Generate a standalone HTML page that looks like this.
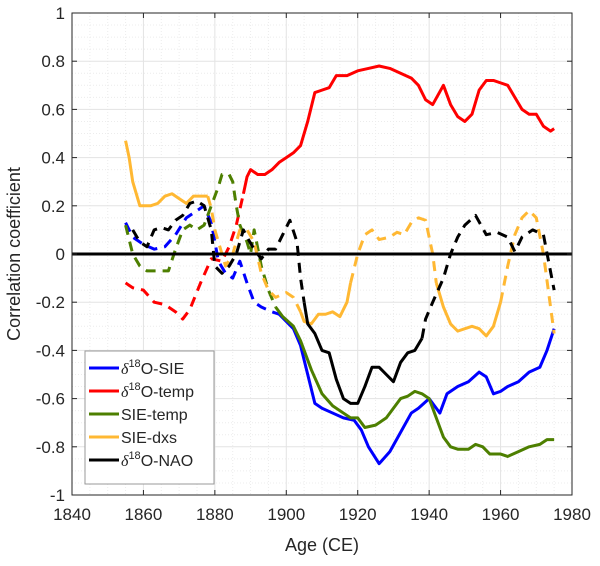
<!DOCTYPE html>
<html><head><meta charset="utf-8"><style>
body{margin:0;background:#fff;}
svg text{font-family:"Liberation Sans",Arial,sans-serif;fill:#262626;}
</style></head><body>
<svg id="chart" width="600" height="561" viewBox="0 0 600 561" xmlns="http://www.w3.org/2000/svg">
<g id="grid"></g>
<g id="series"></g>
<g id="axes"></g>
<text transform="translate(20,254) rotate(-90)" text-anchor="middle" font-size="18">Correlation coefficient</text>
<text x="322" y="551" text-anchor="middle" font-size="18">Age (CE)</text>
<g>
<rect x="85" y="351" width="129" height="133" fill="#fff" stroke="#999" stroke-width="1"/>
<line x1="89" y1="368" x2="119" y2="368" stroke="#0000ff" stroke-width="3"/>
<text x="121" y="374" font-size="16"><tspan font-style="italic" font-family="Liberation Serif">δ</tspan><tspan font-size="11" dy="-7">18</tspan><tspan dy="7">O-SIE</tspan></text>
<line x1="89" y1="391" x2="119" y2="391" stroke="#ff0000" stroke-width="3"/>
<text x="121" y="397" font-size="16"><tspan font-style="italic" font-family="Liberation Serif">δ</tspan><tspan font-size="11" dy="-7">18</tspan><tspan dy="7">O-temp</tspan></text>
<line x1="89" y1="414" x2="119" y2="414" stroke="#4d7f00" stroke-width="3"/>
<text x="121" y="420" font-size="16">SIE-temp</text>
<line x1="89" y1="437" x2="119" y2="437" stroke="#ffb833" stroke-width="3"/>
<text x="121" y="443" font-size="16">SIE-dxs</text>
<line x1="89" y1="460" x2="119" y2="460" stroke="#000" stroke-width="3"/>
<text x="121" y="466" font-size="16"><tspan font-style="italic" font-family="Liberation Serif">δ</tspan><tspan font-size="11" dy="-7">18</tspan><tspan dy="7">O-NAO</tspan></text>
</g>
</svg>
<script>
const xTicks=[1840,1860,1880,1900,1920,1940,1960,1980];
const yTicks=[-1,-0.8,-0.6,-0.4,-0.2,0,0.2,0.4,0.6,0.8,1];
const yTickLabels=["-1","-0.8","-0.6","-0.4","-0.2","0","0.2","0.4","0.6","0.8","1"];

const blueYears=[1855,1857,1860,1863,1866,1869,1872,1875,1877,1879,1881,1883,1885,1887,1889,1891,1893,1896,1898,1900,1902,1904,1906,1908,1910,1913,1916,1919,1921,1923,1926,1929,1932,1935,1937,1940,1942,1943,1945,1948,1951,1954,1956,1958,1960,1962,1965,1968,1971,1973,1975];
const blueVals=[0.13,0.07,0.04,0.02,0.03,0.08,0.15,0.18,0.20,0.13,-0.03,-0.08,-0.10,-0.03,-0.12,-0.20,-0.22,-0.24,-0.25,-0.28,-0.31,-0.38,-0.50,-0.62,-0.64,-0.66,-0.68,-0.69,-0.73,-0.80,-0.87,-0.82,-0.74,-0.66,-0.64,-0.60,-0.64,-0.66,-0.58,-0.55,-0.53,-0.49,-0.51,-0.58,-0.57,-0.55,-0.53,-0.49,-0.47,-0.40,-0.31];
const blueSolid=[[1898,1976]];

const redYears=[1855,1857,1860,1863,1866,1869,1871,1873,1876,1879,1882,1884,1886,1888,1889,1890,1892,1894,1896,1898,1900,1902,1904,1906,1908,1910,1912,1914,1917,1920,1923,1926,1929,1932,1935,1937,1939,1941,1944,1946,1948,1950,1952,1954,1956,1958,1960,1962,1964,1966,1968,1970,1972,1974,1975];
const redVals=[-0.12,-0.14,-0.15,-0.20,-0.21,-0.24,-0.27,-0.23,-0.12,-0.02,-0.03,0.03,0.12,0.25,0.32,0.35,0.33,0.33,0.35,0.38,0.40,0.42,0.45,0.55,0.67,0.68,0.69,0.74,0.74,0.76,0.77,0.78,0.77,0.75,0.73,0.70,0.64,0.62,0.70,0.62,0.57,0.55,0.58,0.68,0.72,0.72,0.71,0.70,0.65,0.60,0.58,0.58,0.53,0.51,0.52];
const redSolid=[[1888,1976]];

const greenYears=[1855,1857,1859,1861,1863,1865,1867,1869,1871,1873,1875,1877,1879,1881,1882,1884,1885,1886,1887,1889,1890,1891,1893,1895,1897,1899,1902,1904,1907,1910,1913,1916,1918,1920,1922,1925,1928,1930,1932,1934,1936,1938,1940,1942,1944,1946,1948,1951,1953,1955,1957,1960,1962,1965,1968,1971,1973,1975];
const greenVals=[0.12,0.0,-0.05,-0.07,-0.07,-0.07,-0.07,0.02,0.10,0.12,0.10,0.12,0.20,0.28,0.33,0.33,0.30,0.20,0.12,0.05,0.0,0.10,-0.05,-0.15,-0.22,-0.26,-0.30,-0.36,-0.48,-0.58,-0.63,-0.66,-0.68,-0.68,-0.72,-0.71,-0.68,-0.64,-0.60,-0.59,-0.57,-0.58,-0.60,-0.68,-0.76,-0.80,-0.81,-0.81,-0.79,-0.80,-0.83,-0.83,-0.84,-0.82,-0.80,-0.79,-0.77,-0.77];
const greenSolid=[[1898,1976]];

const yellowYears=[1855,1856,1857,1859,1862,1864,1866,1868,1870,1872,1874,1876,1878,1879,1880,1882,1883,1885,1887,1889,1891,1893,1895,1897,1900,1902,1904,1905,1907,1909,1911,1913,1915,1917,1918,1920,1922,1924,1926,1929,1931,1933,1935,1937,1939,1941,1942,1944,1946,1948,1950,1952,1954,1956,1958,1960,1962,1964,1966,1968,1970,1972,1974,1975];
const yellowVals=[0.47,0.40,0.30,0.20,0.20,0.21,0.24,0.25,0.23,0.21,0.24,0.24,0.24,0.19,0.10,0.0,-0.05,0.0,0.10,0.10,0.05,-0.08,-0.15,-0.18,-0.16,-0.18,-0.24,-0.28,-0.29,-0.25,-0.25,-0.24,-0.26,-0.20,-0.12,0.0,0.08,0.10,0.06,0.07,0.09,0.08,0.13,0.15,0.14,0.0,-0.12,-0.22,-0.29,-0.32,-0.31,-0.30,-0.31,-0.34,-0.30,-0.20,-0.05,0.08,0.15,0.18,0.15,0.0,-0.22,-0.33];
const yellowSolid=[[1854,1877.5],[1904,1918],[1943,1959]];

const blackYears=[1857,1859,1861,1863,1865,1867,1869,1871,1873,1875,1877,1879,1880,1882,1884,1886,1888,1889,1891,1893,1895,1897,1899,1901,1903,1904,1905,1906,1908,1910,1912,1914,1916,1918,1920,1922,1924,1926,1928,1930,1932,1934,1936,1938,1939,1941,1944,1946,1948,1950,1953,1956,1959,1962,1964,1966,1969,1972,1975];
const blackVals=[0.10,0.05,0.03,0.10,0.11,0.10,0.14,0.16,0.21,0.22,0.20,0.10,-0.05,-0.08,-0.05,0.00,0.10,0.07,0.02,-0.02,0.02,0.02,0.08,0.14,0.05,-0.10,-0.20,-0.29,-0.33,-0.40,-0.41,-0.52,-0.60,-0.62,-0.62,-0.55,-0.47,-0.47,-0.50,-0.53,-0.45,-0.41,-0.40,-0.35,-0.27,-0.20,-0.10,0.00,0.07,0.12,0.16,0.08,0.09,0.07,0.01,0.07,0.10,0.08,-0.15];
const blackSolid=[[1905.5,1938]];

const X0=72,X1=572,Y0=13,Y1=495;
function xs(v){return X0+(v-1840)/(1980-1840)*(X1-X0);}
function ys(v){return Y1-(v+1)/2*(Y1-Y0);}
const NS="http://www.w3.org/2000/svg";
function mk(tag,attrs,parent){const e=document.createElementNS(NS,tag);for(const k in attrs)e.setAttribute(k,attrs[k]);parent.appendChild(e);return e;}

const grid=document.getElementById('grid');
for(let yr=1840;yr<=1980;yr+=5){
  const major=(yr%20===0);
  const l=mk('line',{x1:xs(yr),x2:xs(yr),y1:Y0,y2:Y1,stroke:major?'#e3e3e3':'#ececec','stroke-width':1,'stroke-dasharray':major?'':'1,2'},grid);
  
  
}
for(let k=-20;k<=20;k++){
  const v=k*0.05;const major=(k%4===0);
  const l=mk('line',{x1:X0,x2:X1,y1:ys(v),y2:ys(v),stroke:major?'#e3e3e3':'#ececec','stroke-width':1,'stroke-dasharray':major?'':'1,2'},grid);
  
  
}

const sg=document.getElementById('series');
function inSolid(x,r){return r.some(p=>x>=p[0]&&x<=p[1]);}
function drawSeries(name,years,vals,solid,color,dash){
  let seg=null,style=null;
  const g=mk('g',{},sg);
  
  
  for(let i=0;i<years.length-1;i++){
    const s=inSolid((years[i]+years[i+1])/2,solid);
    if(s!==style||!seg){
      seg={pts:[[xs(years[i]),ys(vals[i])]],solid:s};
      seg.el=mk('polyline',{fill:'none',stroke:color,'stroke-width':3,'stroke-linejoin':'round','stroke-dasharray':s?'':dash},g);
      
      
      style=s;
    }
    seg.pts.push([xs(years[i+1]),ys(vals[i+1])]);
    seg.el.setAttribute('points',seg.pts.map(p=>p.join(',')).join(' '));
  }
}
drawSeries('d18o-sie-line',blueYears,blueVals,blueSolid,'#0000ff','10,7');
drawSeries('d18o-temp-line',redYears,redVals,redSolid,'#ff0000','10,7');
drawSeries('sie-temp-line',greenYears,greenVals,greenSolid,'#4d7f00','10,7');
drawSeries('sie-dxs-line',yellowYears,yellowVals,yellowSolid,'#ffb833','10,7');
drawSeries('d18o-nao-line',blackYears,blackVals,blackSolid,'#000000','10,7');

const ax=document.getElementById('axes');
const z=mk('line',{x1:X0,x2:X1,y1:ys(0),y2:ys(0),stroke:'#000','stroke-width':3},ax);


const box=mk('rect',{x:X0,y:Y0,width:X1-X0,height:Y1-Y0,fill:'none',stroke:'#262626','stroke-width':1},ax);


xTicks.forEach(t=>{
  mk('line',{x1:xs(t),x2:xs(t),y1:Y1,y2:Y1-5,stroke:'#262626'},ax);
  mk('line',{x1:xs(t),x2:xs(t),y1:Y0,y2:Y0+5,stroke:'#262626'},ax);
  const tx=mk('text',{x:xs(t),y:Y1+25,'text-anchor':'middle','font-size':17},ax);
  tx.textContent=t;
  
  
});
yTicks.forEach((t,i)=>{
  mk('line',{x1:X0,x2:X0+5,y1:ys(t),y2:ys(t),stroke:'#262626'},ax);
  mk('line',{x1:X1,x2:X1-5,y1:ys(t),y2:ys(t),stroke:'#262626'},ax);
  const tx=mk('text',{x:X0-7,y:ys(t)+6,'text-anchor':'end','font-size':17},ax);
  tx.textContent=yTickLabels[i];
  
  
});
</script>
</body></html>
